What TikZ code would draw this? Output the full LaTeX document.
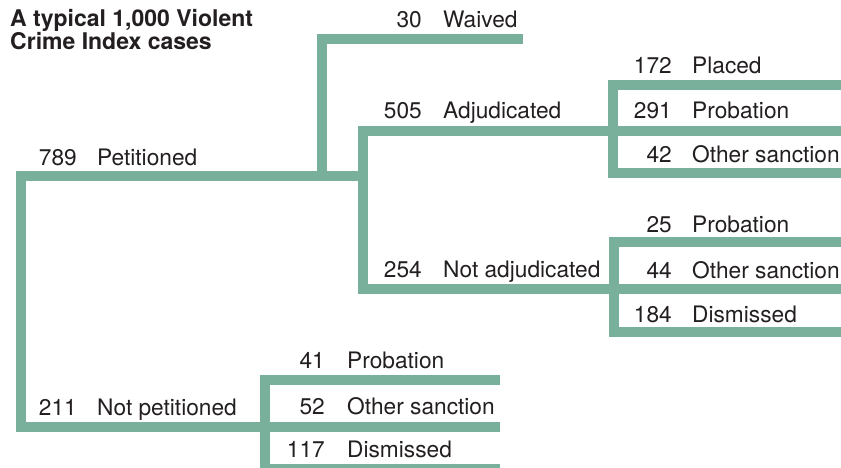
\documentclass[tikz,border=0pt]{standalone}
\usepackage{fontspec}
\setmainfont{TeX Gyre Heros}
\definecolor{branch}{RGB}{120,176,155}
\definecolor{ink}{RGB}{35,31,32}
\begin{document}
\begin{tikzpicture}[x=1pt,y=-1pt,
  br/.style={draw=branch,line width=10pt,line join=miter,line cap=butt},
  num/.style={anchor=base east,inner sep=0pt,text=ink,font=\fontsize{22.7}{26}\selectfont},
  lab/.style={anchor=base west,inner sep=0pt,text=ink,font=\fontsize{22.7}{26}\selectfont},
  ttl/.style={anchor=base west,inner sep=0pt,text=ink,align=left,font=\bfseries\fontsize{23}{20}\selectfont}]
\useasboundingbox (0,0) rectangle (841,468);
\clip (0,0) rectangle (841,468);
% junction coordinates
\coordinate (P1) at (21,176);
\coordinate (P2) at (21,427);
\coordinate (J1) at (363,176);
\coordinate (W0) at (322,176);
\coordinate (W1) at (322,39);
\coordinate (W2) at (523,39);
\coordinate (A0) at (363,131);
\coordinate (A1) at (613,131);
\coordinate (N0) at (363,289);
\coordinate (N1) at (614,289);
\coordinate (R1a) at (613,85);
\coordinate (R1b) at (613,173);
\coordinate (E1a) at (850,85);
\coordinate (E1m) at (850,131);
\coordinate (E1b) at (850,173);
\coordinate (R2a) at (614,242);
\coordinate (R2b) at (614,332);
\coordinate (E2a) at (850,242);
\coordinate (E2m) at (850,289);
\coordinate (E2b) at (850,332);
\coordinate (B0) at (265,427);
\coordinate (Ba) at (265,380);
\coordinate (Bb) at (265,469);
\coordinate (Ea) at (500,380);
\coordinate (Em) at (500,427);
\coordinate (Eb) at (500,469);
% branches
\draw[br] (J1) -- (P1) -- (P2) -- (B0);
\draw[br] (W0) -- (W1) -- (W2);
\draw[br] (A1) -- (A0) -- (N0) -- (N1);
\draw[br] (E1a) -- (R1a) -- (R1b) -- (E1b);
\draw[br] (A1) -- (E1m);
\draw[br] (E2a) -- (R2a) -- (R2b) -- (E2b);
\draw[br] (N1) -- (E2m);
\draw[br] (Ea) -- (Ba) -- (Bb) -- (Eb);
\draw[br] (B0) -- (Em);
% title
\node[ttl] (title) at (10,50) {A typical 1,000 Violent\\Crime Index cases};
% labels
\node[num] (n789) at (77,165) {789};
\node[lab] (l789) at (97,165) {Petitioned};
\node[num] (n211) at (77,415) {211};
\node[lab] (l211) at (97,415) {Not petitioned};
\node[num] (n30) at (422,28) {30};
\node[lab] (l30) at (443,28) {Waived};
\node[num] (n505) at (422,119) {505};
\node[lab] (l505) at (443,119) {Adjudicated};
\node[num] (n254) at (422,277) {254};
\node[lab] (l254) at (443,277) {Not adjudicated};
\node[num] (n172) at (672,74) {172};
\node[lab] (l172) at (692,74) {Placed};
\node[num] (n291) at (672,119) {291};
\node[lab] (l291) at (692,119) {Probation};
\node[num] (n42) at (672,163) {42};
\node[lab] (l42) at (692,163) {Other sanction};
\node[num] (n25) at (672,233) {25};
\node[lab] (l25) at (692,233) {Probation};
\node[num] (n44) at (672,278) {44};
\node[lab] (l44) at (692,278) {Other sanction};
\node[num] (n184) at (672,322) {184};
\node[lab] (l184) at (692,322) {Dismissed};
\node[num] (n41) at (325,368) {41};
\node[lab] (l41) at (347,368) {Probation};
\node[num] (n52) at (325,414) {52};
\node[lab] (l52) at (347,414) {Other sanction};
\node[num] (n117) at (325,457) {117};
\node[lab] (l117) at (347,457) {Dismissed};
\end{tikzpicture}
\end{document}
